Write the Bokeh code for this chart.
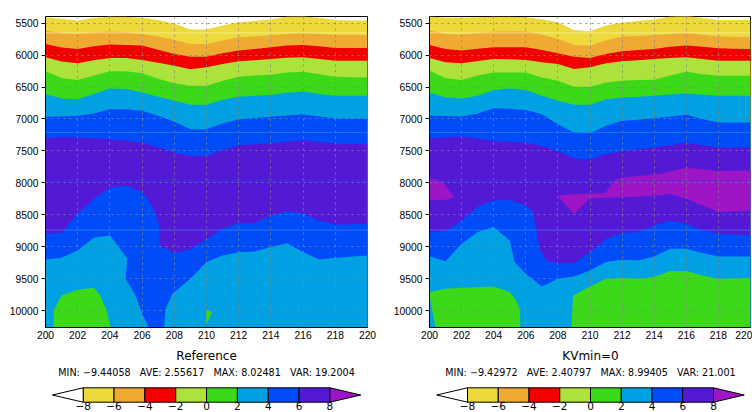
from bokeh.plotting import figure
from bokeh.layouts import row, column
from bokeh.models import Range1d, FixedTicker, PrintfTickFormatter, Span
from bokeh.core.properties import value
from bokeh.embed import file_html
from bokeh.resources import INLINE

# ---------------- data ----------------
LEVELS = [-8, -6, -4, -2, 0, 2, 4, 6, 8]
BAND_COLORS = ["#EDD93B", "#EEAA33", "#F20000", "#ADE23C",
               "#3CD91A", "#00A1E2", "#004CF9", "#5419D5"]
UNDER_COLOR = "#FFFFFF"
OVER_COLOR = "#9E15C5"

PANEL_TITLES = ["Reference", "KVmin=0"]
STAT_NAMES = ["MIN", "AVE", "MAX", "VAR"]
REF_STATS = [-9.44058, 2.55617, 8.02481, 19.2004]
KV_STATS = [-9.42972, 2.40797, 8.99405, 21.001]

X_TICKS = [200, 202, 204, 206, 208, 210, 212, 214, 216, 218, 220]
Y_TICKS = [5500, 6000, 6500, 7000, 7500, 8000, 8500, 9000, 9500, 10000]
X_MIN, X_MAX = 200, 220
Y_TOP, Y_BOTTOM = 5395, 10265

X_COLS = [200, 201, 202, 203, 204, 205, 206, 207, 208, 209, 210,
          211, 212, 213, 214, 215, 216, 217, 218, 219, 220]

# depth of each contour level (upper part), Reference panel
REF_ISO_M8 = [5405, 5430, 5458, 5420, 5395, 5400, 5416, 5448, 5510, 5600, 5600, 5537, 5484, 5465, 5442, 5395, 5390, 5416, 5448, 5458, 5458]
REF_ISO_M6 = [5615, 5652, 5668, 5647, 5631, 5640, 5668, 5709, 5762, 5825, 5825, 5772, 5720, 5709, 5694, 5668, 5657, 5668, 5683, 5683, 5683]
REF_ISO_M4 = [5825, 5880, 5903, 5860, 5835, 5840, 5851, 5915, 5982, 6024, 6024, 5970, 5929, 5905, 5877, 5851, 5840, 5860, 5887, 5887, 5887]
REF_ISO_M2 = [6034, 6100, 6128, 6080, 6045, 6045, 6076, 6120, 6165, 6222, 6191, 6140, 6097, 6080, 6060, 6040, 6034, 6060, 6086, 6086, 6086]
REF_ISO_0 = [6254, 6359, 6390, 6320, 6254, 6254, 6285, 6370, 6442, 6479, 6479, 6400, 6338, 6320, 6306, 6270, 6259, 6300, 6338, 6345, 6348]
REF_ISO_2 = [6610, 6678, 6689, 6610, 6521, 6531, 6584, 6650, 6715, 6778, 6778, 6700, 6652, 6636, 6620, 6590, 6568, 6610, 6636, 6636, 6636]
REF_ISO_4 = [6966, 6961, 6950, 6914, 6846, 6846, 6872, 6950, 7044, 7160, 7160, 7071, 7003, 6985, 6966, 6945, 6924, 6960, 6992, 6992, 6992]
REF_ISO_6 = [7301, 7280, 7291, 7300, 7317, 7340, 7369, 7448, 7526, 7579, 7579, 7490, 7411, 7395, 7385, 7355, 7333, 7360, 7385, 7390, 7395]

# lower part, Reference panel
REF_L6LO_X = [200, 201, 202, 203, 204, 205, 206, 206.4, 206.8, 207.05, 207.1, 208, 209, 210, 211, 212, 213, 214, 215, 216, 217, 218, 220]
REF_L6LO_Y = [8798, 8782, 8484, 8250, 8078, 8042, 8146, 8276, 8458, 8641, 8980, 9100, 9040, 8876, 8720, 8630, 8630, 8510, 8443, 8484, 8589, 8657, 8641]
REF_L4LO_A_X = [200, 201, 202, 203, 204, 204.55, 205.08, 204.97, 205.6, 206.0, 206.42]
REF_L4LO_A_Y = [9200, 9173, 9059, 8860, 8824, 9006, 9189, 9502, 9763, 10050, Y_BOTTOM]
REF_L4LO_B_X = [207.36, 207.46, 207.88, 209, 210, 211, 212, 213, 214, 215, 216, 217, 218, 220]
REF_L4LO_B_Y = [Y_BOTTOM, 9972, 9737, 9502, 9241, 9137, 9085, 9074, 9006, 8944, 9085, 9200, 9173, 9137]
REF_GREEN_A_X = [200.5, 200.5, 201, 202, 203, 203.4, 203.8, 204.05]
REF_GREEN_A_Y = [Y_BOTTOM, 10003, 9763, 9675, 9643, 9763, 9998, Y_BOTTOM]
REF_GREEN_B_X = [209.97, 210.36, 210.0]
REF_GREEN_B_Y = [9985, 10024, 10215]

# depth of each contour level (upper part), KVmin=0 panel
KV_ISO_M8 = [5395, 5410, 5416, 5405, 5400, 5400, 5405, 5440, 5484, 5605, 5626, 5537, 5490, 5465, 5442, 5395, 5380, 5420, 5448, 5448, 5448]
KV_ISO_M6 = [5615, 5668, 5678, 5655, 5631, 5628, 5626, 5680, 5746, 5840, 5851, 5772, 5709, 5700, 5683, 5668, 5652, 5680, 5704, 5715, 5720]
KV_ISO_M4 = [5840, 5903, 5929, 5900, 5877, 5877, 5877, 5920, 5971, 6024, 6045, 5982, 5940, 5920, 5903, 5870, 5851, 5870, 5893, 5900, 5903]
KV_ISO_M2 = [6045, 6113, 6128, 6090, 6060, 6065, 6076, 6110, 6139, 6217, 6191, 6128, 6097, 6080, 6060, 6045, 6034, 6060, 6086, 6086, 6086]
KV_ISO_0 = [6243, 6359, 6390, 6320, 6270, 6270, 6270, 6350, 6400, 6495, 6495, 6427, 6400, 6390, 6385, 6320, 6259, 6300, 6322, 6322, 6322]
KV_ISO_2 = [6584, 6662, 6678, 6636, 6547, 6521, 6547, 6636, 6715, 6778, 6778, 6689, 6662, 6650, 6636, 6615, 6599, 6620, 6636, 6636, 6636]
KV_ISO_4 = [6950, 6955, 6961, 6914, 6830, 6840, 6861, 6924, 7081, 7212, 7223, 7107, 7029, 7010, 6987, 6960, 6935, 7000, 7055, 7055, 7055]
KV_ISO_6 = [7301, 7290, 7275, 7310, 7343, 7355, 7369, 7421, 7500, 7615, 7631, 7553, 7500, 7475, 7448, 7410, 7369, 7410, 7448, 7448, 7448]

# lower part, KVmin=0 panel
KV_L6LO_X = [200, 201, 202, 203, 204, 205, 206, 206.45, 206.65, 206.86, 207.28, 208, 209, 210, 211, 212, 213, 214, 215, 216, 217, 218, 220]
KV_L6LO_Y = [8771, 8761, 8589, 8370, 8276, 8265, 8354, 8458, 8745, 9032, 9215, 9257, 9257, 9085, 8876, 8787, 8771, 8667, 8589, 8641, 8745, 8798, 8823]
KV_L4LO_X = [200, 201, 202, 203, 204, 205, 205.3, 206, 207, 208, 209, 210, 211, 212, 213, 214, 215, 216, 217, 218, 220]
KV_L4LO_Y = [9152, 9226, 8954, 8771, 8693, 8902, 9241, 9424, 9623, 9502, 9466, 9372, 9241, 9205, 9215, 9152, 9032, 9032, 9100, 9152, 9152]
KV_GREEN_A_X = [200, 201, 202, 204, 205, 205.4, 205.65, 205.65, 200.37, 200]
KV_GREEN_A_Y = [9711, 9659, 9643, 9623, 9711, 9842, 9998, Y_BOTTOM, Y_BOTTOM, 9763]
KV_GREEN_B_X = [208.85, 208.94, 210, 211, 212, 213, 214, 215, 216, 217, 218, 220, 220]
KV_GREEN_B_Y = [Y_BOTTOM, 9763, 9623, 9502, 9487, 9502, 9476, 9382, 9382, 9450, 9502, 9487, Y_BOTTOM]
KV_VIOLET_A_X = [200, 200.5, 200.85, 201.55, 201, 200]
KV_VIOLET_A_Y = [7925, 7950, 7990, 8224, 8265, 8276]
KV_VIOLET_B_X = [208, 209, 210.95, 211.58, 212, 214.38, 216, 218, 220, 220, 218, 217, 216, 215, 214, 212.1, 210, 209, 208]
KV_VIOLET_B_Y = [8198, 8177, 8162, 7948, 7920, 7859, 7762, 7814, 7803, 8432, 8458, 8354, 8250, 8170, 8200, 8224, 8241, 8486, 8210]

# faint horizontal seams visible in both panels
SEAM_Y = [5652, 7212, 7971, 8740]
SEAM_COLORS = ["#FFF6B8", "#2E8CF0", "#2846EA", "#4A92F2"]

# ---------------- layout constants (pixels) ----------------
PANEL_H = 347
CB_H = 65
NBSP3 = "\u00a0\u00a0\u00a0"


def minus(s):
    return s.replace("-", "\u2212")


def make_panel(width, border_left, border_right, upper_isos, lower_polys):
    p = figure(width=width, height=PANEL_H,
               x_range=Range1d(X_MIN, X_MAX), y_range=Range1d(Y_BOTTOM, Y_TOP),
               toolbar_location=None, output_backend="svg",
               min_border_left=border_left, min_border_right=border_right,
               min_border_top=16, min_border_bottom=20)
    xs, ys, cs = [], [], []
    for iso, c in zip(upper_isos, BAND_COLORS):
        xs.append(X_COLS + [X_MAX, X_MIN])
        ys.append(iso + [Y_BOTTOM, Y_BOTTOM])
        cs.append(c)
    for px, py, c in lower_polys:
        xs.append(px)
        ys.append(py)
        cs.append(c)
    p.patches(xs=xs, ys=ys, fill_color=cs, line_color=None)

    for yv, c in zip(SEAM_Y, SEAM_COLORS):
        p.add_layout(Span(location=yv, dimension="width", line_color=c,
                          line_alpha=0.6, line_width=1))

    p.background_fill_color = UNDER_COLOR
    p.border_fill_color = "white"
    p.outline_line_color = "black"
    p.outline_line_width = 1
    p.outline_line_alpha = 1

    p.xaxis.ticker = FixedTicker(ticks=X_TICKS, minor_ticks=[])
    p.yaxis.ticker = FixedTicker(ticks=Y_TICKS, minor_ticks=[])
    for ax in (p.xaxis, p.yaxis):
        ax.formatter = PrintfTickFormatter(format="%d")
        ax.axis_line_color = "black"
        ax.major_tick_line_color = "black"
        ax.major_tick_in = 0
        ax.major_label_text_font = "Liberation Sans"
        ax.major_label_text_font_size = "10.3px"
        ax.major_label_text_color = "black"
    p.yaxis.major_tick_out = 4
    p.yaxis.major_label_standoff = 3
    p.xaxis.major_tick_out = 0
    p.xaxis.major_label_standoff = 3

    p.grid.grid_line_color = "#858585"
    p.grid.grid_line_dash = "2 4"
    p.grid.grid_line_width = 1
    p.grid.grid_line_alpha = 0.85
    p.grid.level = "overlay"
    return p


def make_colorbar(width, border_left, border_right, box_left_px, unit_px, title, stats):
    # the colour bar's frame shares the panel frame's horizontal extent
    frame_w = width - border_left - border_right
    x0 = LEVELS[0] - (box_left_px - border_left) / unit_px
    x1 = x0 + frame_w / unit_px
    cb = figure(width=width, height=CB_H, x_range=Range1d(x0, x1),
                y_range=Range1d(CB_H, 0), toolbar_location=None,
                output_backend="svg", x_axis_type=None, y_axis_type=None,
                min_border=0, min_border_left=border_left,
                min_border_right=border_right,
                min_border_top=0, min_border_bottom=0)
    cb.outline_line_color = None
    cb.background_fill_color = "white"
    cb.border_fill_color = "white"

    top, bot = 40.3, 54.7
    mid = (top + bot) / 2
    cb.quad(left=LEVELS[:-1], right=LEVELS[1:], top=top, bottom=bot,
            fill_color=BAND_COLORS, line_color="black", line_width=1)
    step = LEVELS[1] - LEVELS[0]
    cb.patches(xs=[[LEVELS[0], LEVELS[0] - step, LEVELS[0]],
                   [LEVELS[-1], LEVELS[-1] + step, LEVELS[-1]]],
               ys=[[top, mid, bot], [top, mid, bot]],
               fill_color=[UNDER_COLOR, OVER_COLOR], line_color="black",
               line_width=1)
    cb.text(x=LEVELS, y=[54.4] * len(LEVELS),
            text=[minus(f"{l:g}") for l in LEVELS],
            text_font=value("DejaVu Sans"), text_font_size="10.5px",
            text_align="center", text_baseline="top", text_color="black")

    center = (LEVELS[0] + LEVELS[-1]) / 2
    cb.text(x=[center], y=[8.7], text=[title],
            text_font=value("DejaVu Sans"), text_font_size="12px",
            text_align="center", text_baseline="middle", text_color="black")
    stat_line = NBSP3.join(f"{n}:\u00a0{minus(format(v, 'g'))}" for n, v in zip(STAT_NAMES, stats))
    cb.text(x=[center], y=[25], text=[stat_line],
            text_font=value("DejaVu Sans"), text_font_size="9.6px",
            text_align="center", text_baseline="middle", text_color="black")
    return cb


ref_upper = [REF_ISO_M8, REF_ISO_M6, REF_ISO_M4, REF_ISO_M2, REF_ISO_0, REF_ISO_2, REF_ISO_4, REF_ISO_6]
kv_upper = [KV_ISO_M8, KV_ISO_M6, KV_ISO_M4, KV_ISO_M2, KV_ISO_0, KV_ISO_2, KV_ISO_4, KV_ISO_6]

BLUE, LBLUE, GREEN = BAND_COLORS[6], BAND_COLORS[5], BAND_COLORS[4]

ref_lower = [
    (REF_L6LO_X + [X_MAX, X_MIN], REF_L6LO_Y + [Y_BOTTOM, Y_BOTTOM], BLUE),
    (REF_L4LO_A_X + [X_MIN], REF_L4LO_A_Y + [Y_BOTTOM], LBLUE),
    (REF_L4LO_B_X + [X_MAX], REF_L4LO_B_Y + [Y_BOTTOM], LBLUE),
    (REF_GREEN_A_X, REF_GREEN_A_Y, GREEN),
    (REF_GREEN_B_X, REF_GREEN_B_Y, GREEN),
]
kv_lower = [
    (KV_L6LO_X + [X_MAX, X_MIN], KV_L6LO_Y + [Y_BOTTOM, Y_BOTTOM], BLUE),
    (KV_L4LO_X + [X_MAX, X_MIN], KV_L4LO_Y + [Y_BOTTOM, Y_BOTTOM], LBLUE),
    (KV_GREEN_A_X, KV_GREEN_A_Y, GREEN),
    (KV_GREEN_B_X, KV_GREEN_B_Y, GREEN),
    (KV_VIOLET_A_X, KV_VIOLET_A_Y, OVER_COLOR),
    (KV_VIOLET_B_X, KV_VIOLET_B_Y, OVER_COLOR),
]

p_left = make_panel(376, 45, 9, ref_upper, ref_lower)
p_right = make_panel(376, 53, 2, kv_upper, kv_lower)
cb_left = make_colorbar(376, 45, 9, 82.7, 15.42, PANEL_TITLES[0], REF_STATS)
cb_right = make_colorbar(376, 53, 2, 91.0, 15.375, PANEL_TITLES[1], KV_STATS)

layout = row(column(p_left, cb_left, spacing=0), column(p_right, cb_right, spacing=0), spacing=0)

open("out.html", "w").write(file_html(layout, INLINE))
